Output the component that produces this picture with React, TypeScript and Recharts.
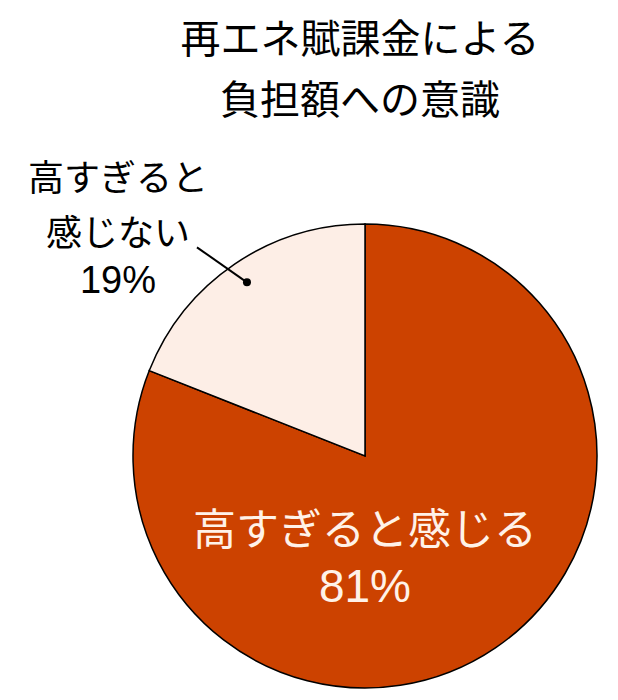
import React from 'react'
import { PieChart, Pie, Cell } from 'recharts'

const titleLines = ['再エネ賦課金による', '負担額への意識']
const sliceNames = ['高すぎると感じる', '高すぎると感じない']
const sliceValues = [81, 19]
const sliceColors = ['#CC4200', '#FDEEE6']

const data = sliceNames.map((name, i) => ({ name, value: sliceValues[i] }))

const FONT = '"Liberation Sans", Arial, "Noto Sans CJK JP", sans-serif'
const RAD = Math.PI / 180

// eslint-disable-next-line @typescript-eslint/no-explicit-any
function renderLabel(props: any) {
  const { cx, cy, midAngle, outerRadius, index, value } = props
  if (index === 0) {
    return (
      <g>
        <text x={cx} y={cy + 89} textAnchor="middle" fill="#FFF2E8" fontSize={43} fontFamily={FONT}>
          {sliceNames[0]}
        </text>
        <text x={cx} y={cy + 146} textAnchor="middle" fill="#FFF2E8" fontSize={46} fontFamily={FONT}>
          {`${value}%`}
        </text>
      </g>
    )
  }
  const r = outerRadius - 22
  const dx = cx + r * Math.cos(-midAngle * RAD)
  const dy = cy + r * Math.sin(-midAngle * RAD)
  const lines = ['高すぎると', '感じない', `${value}%`]
  const baselines = [-91, -36, 11]
  return (
    <g>
      <line x1={dx} y1={dy} x2={dx - 50} y2={dy - 35} stroke="#000" strokeWidth={2} />
      <circle cx={dx} cy={dy} r={4} fill="#000" />
      {lines.map((t, i) => (
        <text
          key={i}
          x={dx - 129}
          y={dy + baselines[i]}
          textAnchor="middle"
          fill="#000"
          fontSize={i === 2 ? 38 : 36}
          fontFamily={FONT}
        >
          {t}
        </text>
      ))}
    </g>
  )
}

export default function App() {
  return (
    <div style={{ position: 'absolute', left: 0, top: 0, width: 618, height: 700, background: '#fff' }}>
      <div
        style={{
          position: 'absolute',
          left: 0,
          top: 6,
          width: 720,
          textAlign: 'center',
          fontFamily: '"Noto Sans CJK JP", sans-serif',
          fontSize: 40,
          lineHeight: '61px',
          color: '#000',
        }}
      >
        {titleLines.map((t, i) => (
          <div key={i}>{t}</div>
        ))}
      </div>
      <PieChart width={618} height={700} margin={{ top: 0, right: 0, bottom: 0, left: 0 }}>
        <Pie
          data={data}
          dataKey="value"
          nameKey="name"
          cx={365}
          cy={456}
          outerRadius={232}
          startAngle={90}
          endAngle={-270}
          stroke="#000"
          strokeWidth={1.5}
          label={renderLabel}
          labelLine={false}
          isAnimationActive={false}
        >
          {data.map((d, i) => (
            <Cell key={d.name} fill={sliceColors[i]} />
          ))}
        </Pie>
      </PieChart>
    </div>
  )
}
